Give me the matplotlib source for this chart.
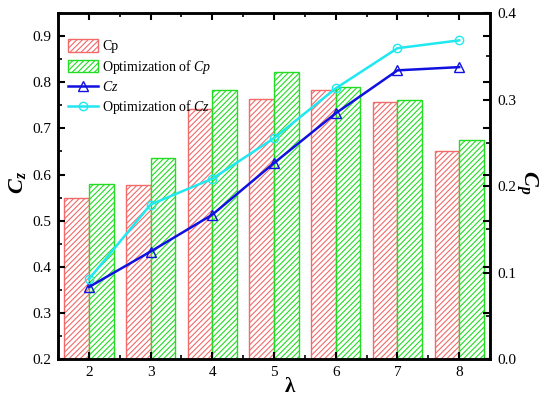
import matplotlib
matplotlib.use('Agg')
import matplotlib.pyplot as plt
import numpy as np
from matplotlib.ticker import MultipleLocator

lam = [2, 3, 4, 5, 6, 7, 8]
cp = [0.186, 0.201, 0.289, 0.301, 0.311, 0.297, 0.241]
cp_opt = [0.202, 0.232, 0.311, 0.332, 0.315, 0.299, 0.253]
cz = [0.356, 0.433, 0.513, 0.625, 0.733, 0.826, 0.833]
cz_opt = [0.373, 0.535, 0.591, 0.679, 0.787, 0.874, 0.891]
cz_ticks = [0.2, 0.3, 0.4, 0.5, 0.6, 0.7, 0.8, 0.9]
cp_ticks = [0.0, 0.1, 0.2, 0.3, 0.4]

plt.rcParams.update({
    'font.family': 'Liberation Serif',
    'mathtext.fontset': 'custom',
    'mathtext.rm': 'Liberation Serif',
    'mathtext.it': 'Liberation Serif:italic',
    'mathtext.bf': 'Liberation Serif:bold',
    'mathtext.bfit': 'Liberation Serif:bold:italic',
    'hatch.linewidth': 0.8,
})

fig = plt.figure(figsize=(5.5, 3.99), dpi=100)
ax = fig.add_axes([0.1055, 0.1003, 0.7855, 0.8667])
ax2 = ax.twinx()
ax.set_zorder(ax2.get_zorder() + 1)
ax.patch.set_visible(False)

x = np.array(lam, dtype=float)
w = 0.4
red = '#f26a6a'
green = '#22dd22'
b1 = ax2.bar(x - w / 2, cp, w, facecolor='white', edgecolor=red, hatch='//////', lw=1.0, label='Cp')
b2 = ax2.bar(x + w / 2, cp_opt, w, facecolor='white', edgecolor=green, hatch='//////', lw=1.0,
             label='Optimization of $\\mathit{Cp}$')

l1, = ax.plot(x, cz, color='#1010e0', lw=1.8, marker='^', ms=7, mfc='none', mew=1.0,
              label='$\\mathit{Cz}$')
l2, = ax.plot(x, cz_opt, color='#20e8f0', lw=1.8, marker='o', ms=6, mfc='none', mew=1.0,
              label='Optimization of $\\mathit{Cz}$')

ax.set_xlim(1.5, 8.5)
ax.set_ylim(0.2, 0.95)
ax2.set_ylim(0.0, 0.4)
ax.set_xticks(lam)
ax.set_xticklabels([str(v) for v in lam])
ax.xaxis.set_minor_locator(MultipleLocator(0.5))
ax.set_yticks(cz_ticks)
ax.set_yticklabels([f'{v:.1f}' for v in cz_ticks])
ax.yaxis.set_minor_locator(MultipleLocator(0.05))
ax2.set_yticks(cp_ticks)
ax2.set_yticklabels([f'{v:.1f}' for v in cp_ticks])
ax2.yaxis.set_minor_locator(MultipleLocator(0.05))

for a in (ax, ax2):
    for s in a.spines.values():
        s.set_linewidth(1.8)
ax.tick_params(which='major', direction='in', length=5, width=1.5, labelsize=11, top=True, right=True,
               labelright=False, pad=5)
ax.tick_params(which='minor', direction='in', length=3, width=1.2, top=True, right=False)
ax2.tick_params(which='major', direction='in', length=5, width=1.5, labelsize=11, pad=5)
ax2.tick_params(which='minor', direction='in', length=3, width=1.2)

ax.set_xlabel('λ', fontsize=15, fontweight='bold', va='center', ha='center')
ax.xaxis.set_label_coords(0.537, -0.081)
ax.set_ylabel('$\\mathbfit{C}_\\mathbfit{z}$', fontsize=16, va='center', ha='center')
ax.yaxis.set_label_coords(-0.093, 0.51)
ax2.set_ylabel('$\\mathbfit{C}_\\mathbfit{p}$', fontsize=16, va='center', ha='center', rotation=-90)
ax2.yaxis.set_label_coords(1.086, 0.51)

ax.legend([b1, b2, l1, l2], [b1.get_label(), b2.get_label(), l1.get_label(), l2.get_label()],
          loc='upper left', bbox_to_anchor=(0.010, 0.941), frameon=False, fontsize=10,
          handlelength=2.2, handleheight=1.0, labelspacing=0.32, handletextpad=0.25,
          borderaxespad=0.0, borderpad=0.4)

fig.savefig('out.png', dpi=100)
